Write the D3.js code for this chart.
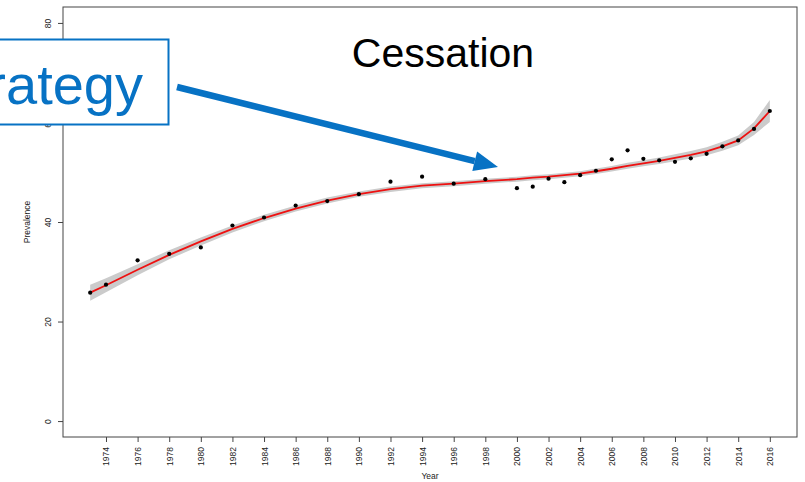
<!DOCTYPE html>
<html>
<head>
<meta charset="utf-8">
<script src="https://cdn.jsdelivr.net/npm/d3@7"></script>
<style>
  html, body { margin: 0; padding: 0; background: #fff; }
  svg { display: block; font-family: "Liberation Sans", Arial, sans-serif; }
</style>
</head>
<body>
<svg id="chart" width="805" height="482"></svg>
<script>
// Observed prevalence by survey year
const years = [1973, 1974, 1976, 1978, 1980, 1982, 1984, 1986, 1988, 1990, 1992, 1994, 1996, 1998,
  2000, 2001, 2002, 2003, 2004, 2005, 2006, 2007, 2008, 2009, 2010, 2011, 2012, 2013, 2014, 2015, 2016];
const prevalence = [25.8, 27.4, 32.3, 33.6, 34.9, 39.3, 40.9, 43.3, 44.2, 45.6, 48.1, 49.1, 47.7, 48.6,
  46.8, 47.1, 48.7, 48.0, 49.4, 50.3, 52.6, 54.4, 52.7, 52.4, 52.1, 52.8, 53.7, 55.2, 56.4, 58.7, 62.3];
// Smoothed trend and the half-width of its confidence band
const fitted = [25.8, 27.3, 30.4, 33.4, 36.1, 38.6, 40.8, 42.7, 44.3, 45.6, 46.6, 47.3, 47.7, 48.2,
  48.6, 48.9, 49.1, 49.4, 49.7, 50.2, 50.7, 51.3, 51.8, 52.3, 52.9, 53.5, 54.2, 55.2, 56.4, 58.8, 62.3];
const ciHalf = [1.6, 1.4, 1.1, 0.9, 0.8, 0.7, 0.65, 0.6, 0.6, 0.55, 0.55, 0.5, 0.5, 0.5,
  0.5, 0.5, 0.5, 0.5, 0.5, 0.55, 0.55, 0.6, 0.6, 0.65, 0.7, 0.75, 0.8, 0.9, 1.0, 1.3, 2.2];
const xTicks = d3.range(1974, 2017, 2);
const yTicks = [0, 20, 40, 60, 80];

const plot = { left: 63, right: 797, top: 7, bottom: 437 };
const svg = d3.select("#chart");

// Axis ranges padded by 4% of the data span
const xPad = (2016 - 1973) * 0.04;
const x = d3.scaleLinear().domain([1973 - xPad, 2016 + xPad]).range([plot.left, plot.right]);
const y = d3.scaleLinear().domain([0 - 80 * 0.04, 80 + 80 * 0.04]).range([plot.bottom, plot.top]);

const rows = years.map((yr, i) => ({ yr, p: prevalence[i], f: fitted[i], h: ciHalf[i] }));

// Confidence band
svg.append("path")
  .datum(rows)
  .attr("fill", "#cbcbcb")
  .attr("d", d3.area().x(d => x(d.yr)).y0(d => y(d.f - d.h)).y1(d => y(d.f + d.h)));

// Trend line
svg.append("path")
  .datum(rows)
  .attr("fill", "none")
  .attr("stroke", "#ee1111")
  .attr("stroke-width", 1.8)
  .attr("d", d3.line().x(d => x(d.yr)).y(d => y(d.f)));

// Observed points
svg.append("g").selectAll("circle")
  .data(rows)
  .join("circle")
  .attr("cx", d => x(d.yr))
  .attr("cy", d => y(d.p))
  .attr("r", 2.1)
  .attr("fill", "#000");

// Plot frame
svg.append("rect")
  .attr("x", plot.left).attr("y", plot.top)
  .attr("width", plot.right - plot.left).attr("height", plot.bottom - plot.top)
  .attr("fill", "none").attr("stroke", "#444").attr("stroke-width", 1);

// X axis
const xAxis = svg.append("g")
  .attr("transform", `translate(0,${plot.bottom})`)
  .call(d3.axisBottom(x).tickValues(xTicks).tickFormat(d3.format("d")).tickSize(5).tickPadding(4));
xAxis.select(".domain").remove();
xAxis.selectAll("line").attr("stroke", "#444");
xAxis.selectAll("text")
  .attr("font-size", 8.5)
  .attr("fill", "#222")
  .attr("text-anchor", "end")
  .attr("dy", "0.35em")
  .attr("transform", "translate(0,10) rotate(-90)")
  .attr("x", 0).attr("y", 0);

// Y axis
const yAxis = svg.append("g")
  .attr("transform", `translate(${plot.left},0)`)
  .call(d3.axisLeft(y).tickValues(yTicks).tickSize(5));
yAxis.select(".domain").remove();
yAxis.selectAll("line").attr("stroke", "#444");
yAxis.selectAll("text")
  .attr("font-size", 8.5)
  .attr("fill", "#222")
  .attr("text-anchor", "middle")
  .attr("x", 0).attr("y", 0).attr("dy", null)
  .attr("transform", "translate(-12,0) rotate(-90)");

// Axis titles
svg.append("text")
  .attr("x", (plot.left + plot.right) / 2).attr("y", 479)
  .attr("text-anchor", "middle").attr("font-size", 8.5).attr("fill", "#222")
  .text("Year");
svg.append("text")
  .attr("transform", `translate(30,${(plot.top + plot.bottom) / 2}) rotate(-90)`)
  .attr("text-anchor", "middle").attr("font-size", 8.5).attr("fill", "#222")
  .text("Prevalence");

// Title
svg.append("text")
  .attr("x", 443).attr("y", 67)
  .attr("text-anchor", "middle").attr("font-size", 41).attr("fill", "#000")
  .text("Cessation");

// Callout arrow
const blue = "#0772c4";
const ax0 = 177, ay0 = 87, ax1 = 498, ay1 = 167;
const ang = Math.atan2(ay1 - ay0, ax1 - ax0);
const headLen = 24, headHalf = 10;
const bx = ax1 - headLen * Math.cos(ang), by = ay1 - headLen * Math.sin(ang);
svg.append("line")
  .attr("x1", ax0).attr("y1", ay0).attr("x2", bx).attr("y2", by)
  .attr("stroke", blue).attr("stroke-width", 6.5);
svg.append("path")
  .attr("fill", blue)
  .attr("d", `M${ax1},${ay1} L${bx - headHalf * Math.sin(ang)},${by + headHalf * Math.cos(ang)} L${bx + headHalf * Math.sin(ang)},${by - headHalf * Math.cos(ang)} Z`);

// Callout box, running off the left edge of the page
svg.append("rect")
  .attr("x", -20).attr("y", 39.5).attr("width", 188.5).attr("height", 85)
  .attr("fill", "#fff").attr("stroke", blue).attr("stroke-width", 2);
svg.append("text")
  .attr("x", 143).attr("y", 104)
  .attr("text-anchor", "end").attr("font-size", 56).attr("fill", blue)
  .text("Strategy");
</script>
</body>
</html>
